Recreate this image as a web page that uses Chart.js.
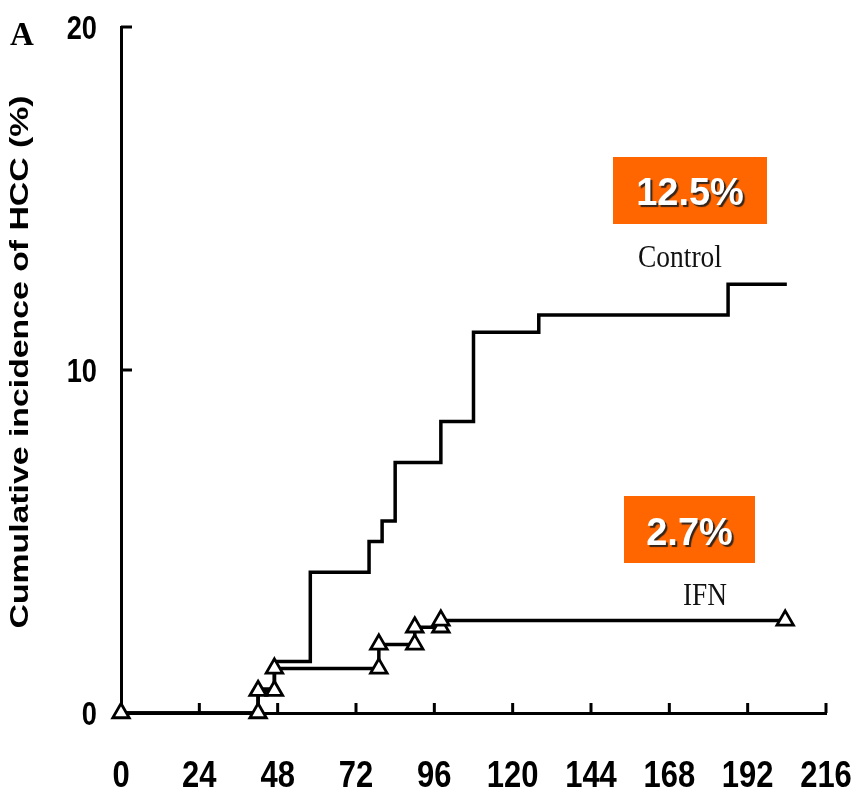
<!DOCTYPE html>
<html>
<head>
<meta charset="utf-8">
<script src="https://cdn.jsdelivr.net/npm/chart.js@4.4.1/dist/chart.umd.min.js"></script>
<style>
html, body { margin: 0; padding: 0; background: #fff; }
#cuadro { width: 852px; height: 791px; }
</style>
</head>
<body>
<div id="cuadro"><canvas id="grafico" width="852" height="791"></canvas></div>
<script>

// eje x en meses, eje y en %
var xTicks = [0, 24, 48, 72, 96, 120, 144, 168, 192, 216];
var yTicks = [0, 10, 20];

var controlMeses   = [0, 42, 47, 58, 76, 80, 84, 98, 108, 128, 186, 204];
var controlValores = [0, 0.7, 1.5, 4.1, 5.0, 5.6, 7.3, 8.5, 11.1, 11.6, 12.5, 12.5];

var ifnMeses   = [0, 42, 42, 47, 47, 79, 79, 90, 90, 98, 98, 203.5];
var ifnValores = [0, 0, 0.65, 0.65, 1.3, 1.3, 2.0, 2.0, 2.5, 2.5, 2.7, 2.7];

var etiquetas = ['Control', 'IFN'];
var porcentajes = ['12.5%', '2.7%'];
var tituloY = 'Cumulative incidence of HCC (%)';
var letraPanel = 'A';


function puntos (meses, valores) {
    var lista = [];
    for (var i = 0; i < meses.length; i++) {
        lista.push({x: meses[i], y: valores[i]});
    }
    return lista;
}


// texto estirado/encogido en horizontal, alineado segun 'alinear'
function textoAjustado (ctx, texto, fuente, x, y, escala, alinear) {
    ctx.save();
    ctx.font = fuente;
    ctx.translate(x, y);
    ctx.scale(escala, 1);
    ctx.textAlign = alinear || 'center';
    ctx.fillText(texto, 0, 0);
    ctx.restore();
}

function escalaPara (ctx, texto, fuente, ancho) {
    ctx.save();
    ctx.font = fuente;
    var w = ctx.measureText(texto).width;
    ctx.restore();
    return ancho / w;
}


var marcasPlugin = {
    id: 'marcas',
    afterDraw: function (chart) {
        var ctx = chart.ctx;
        var ejeX = chart.scales.x;
        var ejeY = chart.scales.y;
        var abajo = chart.chartArea.bottom;
        var izq = chart.chartArea.left;

        // marcas hacia dentro
        ctx.save();
        ctx.strokeStyle = '#000';
        ctx.lineWidth = 3;
        xTicks.forEach(function (v) {
            if (v == 0) return;
            var px = ejeX.getPixelForValue(v);
            ctx.beginPath();
            ctx.moveTo(px, abajo);
            ctx.lineTo(px, abajo - 10);
            ctx.stroke();
        });
        yTicks.forEach(function (v) {
            if (v == 0) return;
            var py = ejeY.getPixelForValue(v);
            ctx.beginPath();
            ctx.moveTo(izq, py);
            ctx.lineTo(izq + 11, py);
            ctx.stroke();
        });
        ctx.restore();

        // numeros de los ejes (letra estrecha)
        ctx.save();
        ctx.fillStyle = '#000';
        ctx.textBaseline = 'alphabetic';
        var fx = "bold 36px 'Liberation Sans', Arial, sans-serif";
        xTicks.forEach(function (v) {
            textoAjustado(ctx, String(v), fx, ejeX.getPixelForValue(v), 787, 0.86, 'center');
        });
        var fy = "bold 34px 'Liberation Sans', Arial, sans-serif";
        yTicks.forEach(function (v) {
            textoAjustado(ctx, String(v), fy, 97, ejeY.getPixelForValue(v) + 12, 0.8, 'right');
        });
        ctx.restore();

        // titulo del eje y
        ctx.save();
        ctx.fillStyle = '#000';
        ctx.textBaseline = 'middle';
        ctx.translate(21, 362);
        ctx.rotate(-Math.PI / 2);
        var ft = "bold 25px 'Liberation Sans', Arial, sans-serif";
        textoAjustado(ctx, tituloY, ft, 0, 0, escalaPara(ctx, tituloY, ft, 533));
        ctx.restore();

        // letra del panel
        ctx.save();
        ctx.fillStyle = '#000';
        ctx.font = "bold 33px 'Liberation Serif', 'Times New Roman', serif";
        ctx.fillText(letraPanel, 10, 45);
        ctx.restore();

        // cajas naranjas
        var cajas = [
            {x: 613, y: 157, w: 154, h: 67, base: 205},
            {x: 624, y: 496, w: 131, h: 67, base: 545}
        ];
        cajas.forEach(function (c, i) {
            ctx.save();
            ctx.fillStyle = '#FF6600';
            ctx.fillRect(c.x, c.y, c.w, c.h);
            ctx.font = "bold 38px 'Liberation Sans', Arial, sans-serif";
            ctx.textAlign = 'center';
            ctx.shadowColor = 'rgba(30,30,30,0.9)';
            ctx.shadowOffsetX = 2;
            ctx.shadowOffsetY = 2;
            ctx.shadowBlur = 1;
            ctx.fillStyle = '#fff';
            ctx.fillText(porcentajes[i], c.x + c.w / 2, c.base);
            ctx.restore();
        });

        // nombres de las curvas
        ctx.save();
        ctx.fillStyle = '#111';
        var fs = "31px 'Liberation Serif', 'Times New Roman', serif";
        textoAjustado(ctx, etiquetas[0], fs, 680, 267, escalaPara(ctx, etiquetas[0], fs, 84));
        textoAjustado(ctx, etiquetas[1], fs, 705, 605, escalaPara(ctx, etiquetas[1], fs, 44));
        ctx.restore();
    }
};


function generarGrafico () {

    var cuadroGrafico = document.getElementById('grafico');

    var datosImprimir = {
        datasets: [{
            label: etiquetas[1],
            data: puntos(ifnMeses, ifnValores),
            borderColor: '#000',
            borderWidth: 3.5,
            pointStyle: 'triangle',
            pointRadius: 9.5,
            pointBackgroundColor: '#fff',
            pointBorderColor: '#000',
            pointBorderWidth: 2.8,
            tension: 0,
            clip: false,
            order: 0
        }, {
            label: etiquetas[0],
            data: puntos(controlMeses, controlValores),
            borderColor: '#000',
            borderWidth: 3.5,
            stepped: 'before',
            pointRadius: 0,
            clip: false,
            order: 1
        }]
    };

    var chartOptions = {
        responsive: false,
        animation: false,
        devicePixelRatio: 1,
        layout: { padding: { top: 27, right: 26, left: 0, bottom: 0 } },
        plugins: {
            legend: { display: false },
            tooltip: { enabled: false }
        },
        scales: {
            x: {
                type: 'linear',
                min: 0,
                max: 216,
                afterBuildTicks: function (s) { s.ticks = xTicks.map(function (v) { return {value: v}; }); },
                afterFit: function (s) {
                    s.height = 78;
                    s.paddingLeft = 0; s.paddingRight = 0;
                },
                grid: { display: false, drawTicks: false },
                border: { display: true, color: '#000', width: 3 },
                ticks: { display: false }
            },
            y: {
                type: 'linear',
                min: 0,
                max: 20,
                afterBuildTicks: function (s) { s.ticks = yTicks.map(function (v) { return {value: v}; }); },
                afterFit: function (s) {
                    s.width = 121;
                    s.paddingTop = 0; s.paddingBottom = 0;
                },
                grid: { display: false, drawTicks: false },
                border: { display: true, color: '#000', width: 3 },
                ticks: { display: false }
            }
        }
    };

    var lineChart = new Chart(cuadroGrafico, {
        type: 'line',
        data: datosImprimir,
        options: chartOptions,
        plugins: [marcasPlugin]
    });
}

generarGrafico();

</script>
</body>
</html>
